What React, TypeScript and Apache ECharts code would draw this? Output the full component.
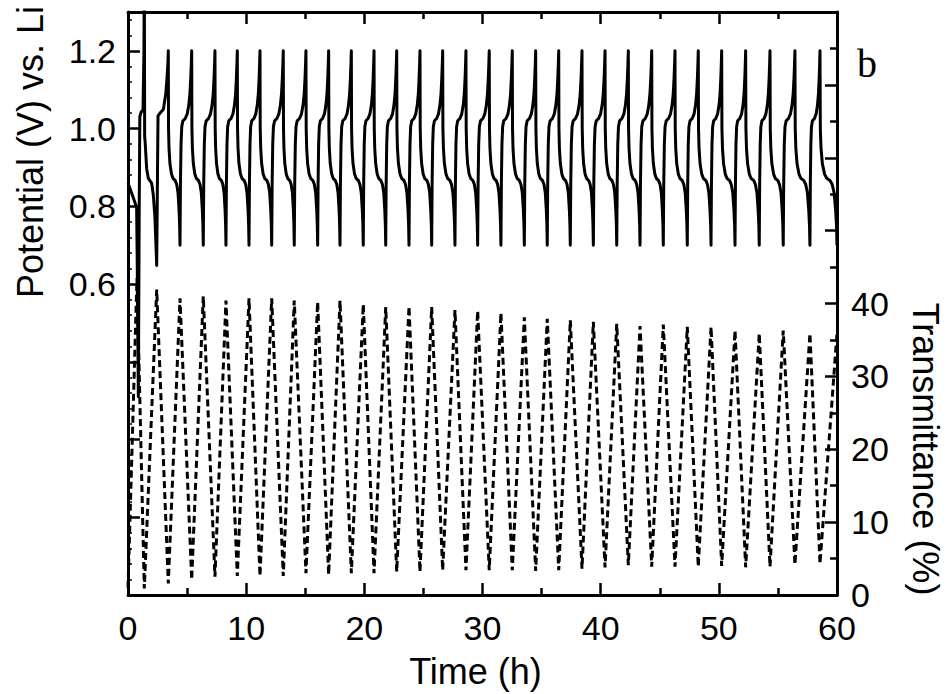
import React, { useEffect, useRef } from "react";
import * as echarts from "echarts";

// ---- Data ----
// Times (h) of the potential maxima (1.2 V) = transmittance minima
const peakTimes = [
  3.41, 5.39, 7.36, 9.25, 11.17, 13.14, 15.06, 16.98, 18.9, 20.82, 22.74, 24.71,
  26.63, 28.6, 30.57, 32.52, 34.5, 36.45, 38.42, 40.37, 42.34, 44.32, 46.29,
  48.26, 50.24, 52.27, 54.33, 56.44, 58.56,
];
// Times (h) of the potential minima (0.7 V) = transmittance maxima
const valleyTimes = [
  2.43, 4.4, 6.37, 8.29, 10.24, 12.16, 14.07, 16.05, 17.94, 19.91, 21.81, 23.78,
  25.7, 27.67, 29.59, 31.56, 33.54, 35.48, 37.43, 39.38, 41.36, 43.33, 45.3,
  47.33, 49.34, 51.37, 53.42, 55.45, 57.71, 60.0,
];
// Potential during the first hours (h, V)
const potentialStart = [
  [0, 0.86], [0.45, 0.822], [0.73, 0.797], [0.8, 0.6], [0.875, 0.31],
  [0.95, 0.8], [1.0, 1.03], [1.1, 1.042], [1.27, 1.048], [1.35, 1.2],
  [1.38, 1.45], [1.41, 0.98], [1.45, 0.965], [1.58, 0.897], [1.72, 0.872],
  [2.0, 0.86], [2.14, 0.83], [2.28, 0.771], [2.43, 0.648], [2.5, 0.9],
  [2.54, 1.033], [2.71, 1.04], [2.99, 1.049], [3.2, 1.09], [3.3, 1.13],
  [3.38, 1.17],
];
// Shape of one discharge (peak -> valley) and charge (valley -> peak) step
const dischargePhase = [0, 0.02, 0.06, 0.14, 0.27, 0.4, 0.6, 0.72, 0.83, 0.92, 0.97];
const dischargeValue = [1.2, 1.0, 0.95, 0.91, 0.883, 0.872, 0.866, 0.856, 0.835, 0.79, 0.75];
const chargePhase = [0, 0.04, 0.09, 0.15, 0.25, 0.45, 0.62, 0.75, 0.85, 0.92, 0.97];
const chargeValue = [0.7, 0.86, 0.96, 1.005, 1.02, 1.026, 1.038, 1.06, 1.09, 1.13, 1.17];

// Transmittance (%)
const transmittanceStart = [[0, 1.0], [0.76, 43.5], [1.38, 0.9]];
const transMinValues = [
  1.6, 2.1, 2.5, 2.6, 2.6, 2.6, 3.0, 2.8, 3.0, 3.0, 3.2, 3.2, 3.4, 3.4, 3.4, 3.4,
  3.3, 3.4, 3.6, 3.8, 4.1, 3.9, 3.9, 3.9, 4.0, 3.8, 3.9, 4.2, 4.3,
];
const transMaxValues = [
  41.9, 40.7, 41.0, 40.4, 40.7, 40.7, 40.4, 40.2, 40.4, 39.9, 39.5, 39.6, 39.5,
  39.1, 39.0, 38.7, 38.1, 37.9, 37.7, 37.5, 37.2, 36.9, 37.1, 36.8, 36.8, 36.3,
  35.9, 36.3, 35.9, 35.9,
];

const xTicks = { min: 0, max: 60, interval: 10 };
const potentialLabels = ["0.6", "0.8", "1.0", "1.2"];
const transLabels = ["0", "10", "20", "30", "40"];

const FONT = "'Liberation Sans', Arial, Helvetica, sans-serif";

function buildPotential(): number[][] {
  const out: number[][] = potentialStart.map((p) => [p[0], p[1]]);
  for (let i = 0; i < peakTimes.length; i++) {
    const p = peakTimes[i];
    const v = valleyTimes[i + 1];
    for (let k = 0; k < dischargePhase.length; k++) {
      out.push([p + dischargePhase[k] * (v - p), dischargeValue[k]]);
    }
    const next = peakTimes[i + 1];
    if (next === undefined) {
      out.push([v, chargeValue[0]]);
    } else {
      for (let k = 0; k < chargePhase.length; k++) {
        out.push([v + chargePhase[k] * (next - v), chargeValue[k]]);
      }
    }
  }
  return out;
}

function buildTransmittance(): number[][] {
  const out: number[][] = transmittanceStart.map((p) => [p[0], p[1]]);
  out.push([valleyTimes[0], transMaxValues[0]]);
  for (let i = 0; i < peakTimes.length; i++) {
    out.push([peakTimes[i], transMinValues[i]]);
    out.push([valleyTimes[i + 1], transMaxValues[i + 1]]);
  }
  return out;
}

const axisLineStyle = { color: "#000", width: 3 };
const tickStyle = { color: "#000", width: 2.5 };

export default function App() {
  const ref = useRef<HTMLDivElement>(null);
  useEffect(() => {
    if (!ref.current) return;
    const chart = echarts.init(ref.current, null, { renderer: "svg" });
    const xCommon = {
      type: "value",
      min: xTicks.min,
      max: xTicks.max,
      interval: xTicks.interval,
      splitLine: { show: false },
      axisLine: { show: true, onZero: false, lineStyle: axisLineStyle },
      axisTick: { show: true, inside: true, length: 12, lineStyle: tickStyle },
      minorTick: { show: true, splitNumber: 2, length: 7, lineStyle: tickStyle },
    };
    chart.setOption({
      animation: false,
      backgroundColor: "#fff",
      grid: { left: 128, right: 110, top: 12, bottom: 87, containLabel: false },
      xAxis: [
        {
          ...xCommon,
          position: "bottom",
          axisLabel: { fontSize: 34, color: "#000", fontFamily: FONT, margin: 16 },
          name: "Time (h)",
          nameLocation: "middle",
          nameGap: 58,
          nameTextStyle: {
            fontSize: 36,
            color: "#000",
            fontFamily: FONT,
            padding: [0, 14, 0, 0],
          },
        },
        {
          ...xCommon,
          position: "top",
          axisLabel: { show: false },
        },
      ],
      yAxis: [
        {
          type: "value",
          position: "left",
          min: -0.2,
          max: 1.3,
          interval: 0.2,
          splitLine: { show: false },
          axisLine: { show: true, onZero: false, lineStyle: axisLineStyle },
          axisTick: { show: true, inside: true, length: 12, lineStyle: tickStyle },
          minorTick: { show: true, splitNumber: 5, length: 4, lineStyle: { color: "#000", width: 1.5 } },
          axisLabel: {
            fontSize: 34,
            color: "#000",
            fontFamily: FONT,
            margin: 12,
            formatter: (v: number) => {
              const s = v.toFixed(1);
              return potentialLabels.indexOf(s) >= 0 ? s : "";
            },
          },
        },
        {
          type: "value",
          position: "right",
          min: 0,
          max: 80,
          interval: 10,
          splitLine: { show: false },
          axisLine: { show: true, onZero: false, lineStyle: axisLineStyle },
          axisTick: { show: true, inside: true, length: 12, lineStyle: tickStyle },
          minorTick: { show: true, splitNumber: 2, length: 7, lineStyle: tickStyle },
          axisLabel: {
            fontSize: 34,
            color: "#000",
            fontFamily: FONT,
            margin: 14,
            formatter: (v: number) => {
              const s = String(Math.round(v));
              return transLabels.indexOf(s) >= 0 ? s : "";
            },
          },
        },
      ],
      series: [
        {
          type: "line",
          name: "Potential",
          xAxisIndex: 0,
          yAxisIndex: 0,
          showSymbol: false,
          symbol: "none",
          clip: true,
          data: buildPotential(),
          lineStyle: { color: "#000", width: 3, join: "round" },
        },
        {
          type: "line",
          name: "Transmittance",
          xAxisIndex: 0,
          yAxisIndex: 1,
          showSymbol: false,
          symbol: "none",
          clip: true,
          data: buildTransmittance(),
          lineStyle: { color: "#000", width: 3, type: [7, 4] },
        },
      ],
      graphic: [
        {
          type: "text",
          x: 30,
          y: 152,
          rotation: Math.PI / 2,
          style: {
            text: "Potential (V) vs. Li",
            fontSize: 36,
            fontFamily: FONT,
            fill: "#000",
            align: "center",
            verticalAlign: "middle",
            textAlign: "center",
            textVerticalAlign: "middle",
          },
        },
        {
          type: "text",
          x: 925,
          y: 449,
          rotation: -Math.PI / 2,
          style: {
            text: "Transmittance (%)",
            fontSize: 36,
            fontFamily: FONT,
            fill: "#000",
            align: "center",
            verticalAlign: "middle",
            textAlign: "center",
            textVerticalAlign: "middle",
          },
        },
        {
          type: "text",
          x: 857,
          y: 63,
          style: {
            text: "b",
            fontSize: 40,
            fontFamily: "'Liberation Serif', 'Times New Roman', serif",
            fill: "#000",
            align: "left",
            verticalAlign: "middle",
            textAlign: "left",
            textVerticalAlign: "middle",
          },
        },
      ],
    });
    return () => chart.dispose();
  }, []);
  return (
    <div
      ref={ref}
      style={{ position: "fixed", left: 0, top: 0, width: 947, height: 694, background: "#fff" }}
    />
  );
}
